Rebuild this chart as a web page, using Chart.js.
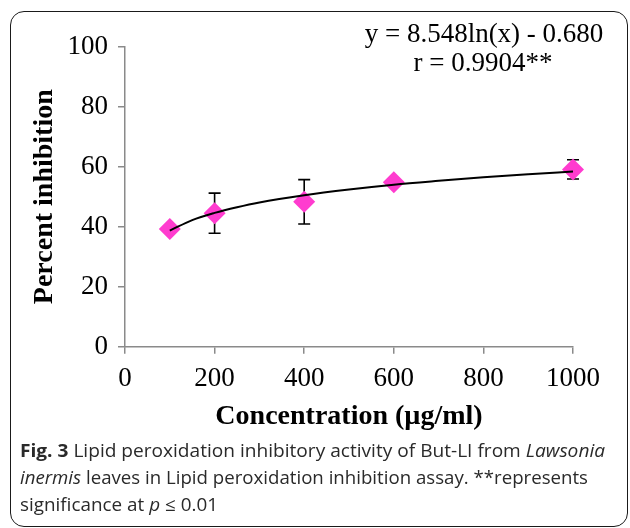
<!DOCTYPE html>
<html>
<head>
<meta charset="utf-8">
<script src="https://cdn.jsdelivr.net/npm/chart.js@4"></script>
<style>
  html, body { margin: 0; padding: 0; background: #fff; }
  #wrap { position: relative; width: 630px; height: 528px; overflow: hidden; }
  #chart { position: absolute; left: 0; top: 0; }
  #frame {
    position: absolute; left: 10px; top: 11px; width: 618px; height: 516px;
    border: 1.5px solid #1a1a1a; border-radius: 14px; box-sizing: border-box;
  }
  #caption {
    position: absolute; left: 20px; top: 437px;
    font-family: "Open Sans", sans-serif; font-size: 18px; line-height: 27px;
    color: #2a2a2a; white-space: nowrap;
  }
  #caption div { transform-origin: 0 0; width: max-content; }
  #caption b { font-weight: 700; }
</style>
</head>
<body>
<div id="wrap">
  <canvas id="chart" width="630" height="528"></canvas>
  <div id="frame"></div>
  <div id="caption">
    <div><b>Fig. 3</b> Lipid peroxidation inhibitory activity of But-LI from <i>Lawsonia</i></div>
    <div><i>inermis</i> leaves in Lipid peroxidation inhibition assay. **represents</div>
    <div>significance at <i>p</i> ≤ 0.01</div>
  </div>
</div>
<script>
// measured points (concentration µg/ml -> % inhibition)
const concentrations = [100, 200, 400, 600, 1000];
const inhibition = [39.2, 44.5, 48.3, 54.8, 59.1];
const errors = [0.8, 6.7, 7.4, 1.0, 3.2];

// logarithmic trend line
const trendX = [100, 150, 200, 250, 300, 400, 500, 600, 700, 800, 900, 1000];
const trendY = [38.7, 42.2, 44.6, 46.5, 48.1, 50.5, 52.4, 54.0, 55.3, 56.5, 57.5, 58.4];

const xTicks = [0, 200, 400, 600, 800, 1000];
const yTicks = [0, 20, 40, 60, 80, 100];

const equationLines = ['y = 8.548ln(x) - 0.680', 'r = 0.9904**'];

const axisGray = '#8a8a8a';
const serif = '"Liberation Serif", "Times New Roman", serif';

const errorBars = {
    id: 'errorBars',
    beforeDatasetsDraw(chart) {
        const { ctx, scales: { x, y } } = chart;
        ctx.save();
        ctx.strokeStyle = '#000';
        ctx.lineWidth = 1.6;
        concentrations.forEach((c, i) => {
            const px = x.getPixelForValue(c);
            const top = y.getPixelForValue(inhibition[i] + errors[i]);
            const bot = y.getPixelForValue(inhibition[i] - errors[i]);
            ctx.beginPath();
            ctx.moveTo(px, top); ctx.lineTo(px, bot);
            ctx.moveTo(px - 6, top); ctx.lineTo(px + 6, top);
            ctx.moveTo(px - 6, bot); ctx.lineTo(px + 6, bot);
            ctx.stroke();
        });
        ctx.restore();
    }
};

const equationText = {
    id: 'equationText',
    afterDraw(chart) {
        const ctx = chart.ctx;
        ctx.save();
        ctx.fillStyle = '#000';
        ctx.font = '27px ' + serif;
        ctx.textAlign = 'center';
        ctx.textBaseline = 'alphabetic';
        ctx.fillText(equationLines[0], 484, 42);
        ctx.fillText(equationLines[1], 483, 71);
        ctx.restore();
    }
};

new Chart(document.getElementById('chart'), {
    type: 'scatter',
    data: {
        datasets: [
            {
                label: 'Trend',
                data: trendX.map((v, i) => ({ x: v, y: trendY[i] })),
                showLine: true,
                borderColor: '#000',
                borderWidth: 2,
                pointRadius: 0,
                tension: 0.4,
                cubicInterpolationMode: 'monotone',
                clip: false,
                order: 0
            },
            {
                label: 'Percent inhibition',
                data: concentrations.map((v, i) => ({ x: v, y: inhibition[i] })),
                pointStyle: 'rectRot',
                pointRadius: 11,
                backgroundColor: '#ff3ccf',
                borderColor: '#ff3ccf',
                borderWidth: 0,
                clip: false,
                order: 1
            }
        ]
    },
    options: {
        responsive: false,
        animation: false,
        events: [],
        layout: { padding: { left: 27.5, top: 46.7, right: 57, bottom: 91.3 } },
        plugins: { legend: { display: false }, tooltip: { enabled: false } },
        scales: {
            x: {
                type: 'linear',
                min: 0, max: 1000,
                afterBuildTicks: s => { s.ticks = xTicks.map(v => ({ value: v })); },
                afterFit: s => { s.height = 90; },
                grid: { drawOnChartArea: false, drawTicks: true, tickLength: 7, color: axisGray, lineWidth: 1.5 },
                border: { color: axisGray, width: 1.5 },
                ticks: {
                    color: '#000', font: { family: serif, size: 27 }, padding: 9, maxRotation: 0,
                    callback: v => String(v)
                },
                title: {
                    display: true, text: 'Concentration (µg/ml)', color: '#000',
                    font: { family: serif, size: 28, weight: 'bold' }, padding: { top: 0, bottom: 3 }
                }
            },
            y: {
                min: 0, max: 100,
                afterBuildTicks: s => { s.ticks = yTicks.map(v => ({ value: v })); },
                afterFit: s => { s.width = 97.5; },
                grid: { drawOnChartArea: false, drawTicks: true, tickLength: 7, color: axisGray, lineWidth: 1.5 },
                border: { color: axisGray, width: 1.5 },
                ticks: { color: '#000', font: { family: serif, size: 27 }, padding: 10, callback: v => String(v) },
                title: {
                    display: true, text: 'Percent inhibition', color: '#000',
                    font: { family: serif, size: 28, weight: 'bold' }, padding: { top: 0, bottom: 0 }
                }
            }
        }
    },
    plugins: [errorBars, equationText]
});

// squeeze each caption line to the width it has in the reference
const lineWidths = [585, 568, 198];
document.querySelectorAll('#caption div').forEach((line, i) => {
    const w = line.getBoundingClientRect().width;
    line.style.transform = 'scaleX(' + (lineWidths[i] / w) + ')';
});
</script>
</body>
</html>
